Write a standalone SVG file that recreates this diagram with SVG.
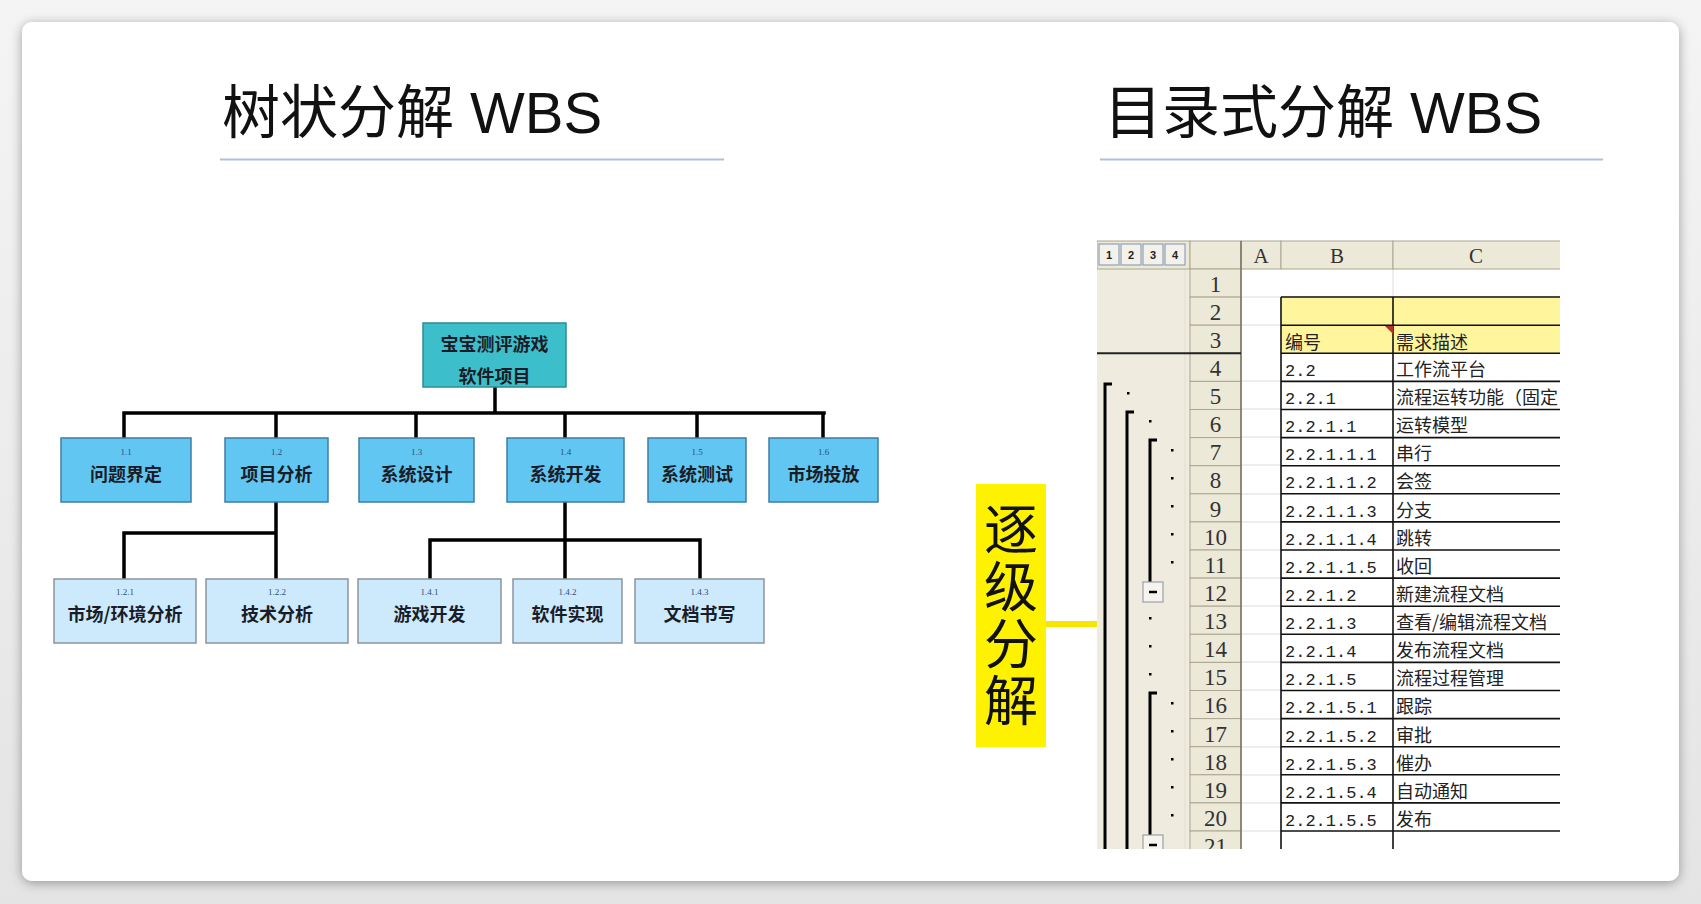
<svg xmlns="http://www.w3.org/2000/svg" width="1701" height="904" viewBox="0 0 1701 904">
  <defs>
    <style>
      .title { font-family: "Liberation Sans", "Noto Sans CJK SC", sans-serif; font-size: 58px; fill: #111; }
      .rule { stroke: #a9c3de; stroke-width: 2; }
      .wire { stroke: #000; stroke-width: 3.5; fill: none; stroke-linecap: square; }
      .root { fill: #3cbfca; stroke: #2b8c99; stroke-width: 1.5; }
      .l1 { fill: #62c6f2; stroke: #3f7da3; stroke-width: 1.5; }
      .l2 { fill: #cdeafc; stroke: #8a949c; stroke-width: 1.5; }
      .lbl { font-family: "Noto Sans CJK SC", sans-serif; font-weight: 700; font-size: 18px; fill: #1a1d28; text-anchor: middle; }
      .num { font-family: "Liberation Serif", serif; font-size: 9px; fill: #2d4d7e; text-anchor: middle; }
      .hdr { fill: #ece9d8; stroke: #aaa691; stroke-width: 1; }
      .hdrtxt { font-family: "Liberation Serif", serif; font-size: 21px; fill: #333; text-anchor: middle; }
      .rown { font-family: "Liberation Serif", serif; font-size: 23px; fill: #333; text-anchor: middle; }
      .code { font-family: "Liberation Mono", monospace; font-size: 17px; fill: #222; }
      .desc { font-family: "Noto Sans CJK SC", sans-serif; font-size: 18px; fill: #222; }
      .blk { stroke: #111; stroke-width: 1.6; }
      .grid { stroke: #dcdcdc; stroke-width: 1; }
      .brk { stroke: #000; stroke-width: 3; fill: none; }
      .dot { fill: #000; }
      .btn { fill: #f3f1ea; stroke: #8fa3ba; stroke-width: 1.2; }
      .btntxt { font-family: "Liberation Sans", sans-serif; font-size: 11px; font-weight: 700; fill: #222; text-anchor: middle; }
      .minus { fill: #f6f4ee; stroke: #9aa1aa; stroke-width: 1.2; }
      .call { font-family: "Noto Sans CJK SC", sans-serif; font-size: 54px; fill: #111; writing-mode: vertical-rl; letter-spacing: 3px; }
    </style>
    <filter id="cardShadow" x="-5%" y="-5%" width="110%" height="110%">
      <feGaussianBlur in="SourceAlpha" stdDeviation="6"/>
      <feOffset dx="0" dy="2" result="b"/>
      <feComponentTransfer><feFuncA type="linear" slope="0.35"/></feComponentTransfer>
      <feMerge><feMergeNode/><feMergeNode in="SourceGraphic"/></feMerge>
    </filter>
    <linearGradient id="topBand" x1="0" y1="0" x2="0" y2="1">
      <stop offset="0" stop-color="#f4f4f4"/>
      <stop offset="1" stop-color="#e4e4e4"/>
    </linearGradient>
    <clipPath id="sheetClip">
      <rect x="1097" y="240" width="463" height="609"/>
    </clipPath>
  </defs>

  <!-- page background and slide card -->
  <rect x="0" y="0" width="1701" height="904" fill="url(#topBand)"/>
  <rect x="22" y="22" width="1657" height="859" rx="10" fill="#fff" filter="url(#cardShadow)"/>

  <!-- headings -->
  <g id="heading-tree">
    <text class="title" x="222" y="133">树状分解 WBS</text>
    <line class="rule" x1="220" y1="159.5" x2="724" y2="159.5"/>
  </g>
  <g id="heading-outline">
    <text class="title" x="1104" y="133">目录式分解 WBS</text>
    <line class="rule" x1="1100" y1="159.5" x2="1603" y2="159.5"/>
  </g>

  <!-- tree connectors -->
  <g id="connectors">
    <path class="wire" d="M495,387 V413 M124,413 H824 M124,413 V438 M276,413 V438 M416,413 V438 M565,413 V438 M697,413 V438 M823,413 V438"/>
    <path class="wire" d="M276,503 V579 M124,533 H276 M124,533 V579"/>
    <path class="wire" d="M565,503 V579 M430,540 H700 M430,540 V579 M700,540 V579"/>
    <line x1="1046" y1="624" x2="1097" y2="624" stroke="#f7e600" stroke-width="6"/>
  </g>

  <!-- tree nodes -->
  <g id="node-root">
    <rect class="root" x="423" y="323" width="143" height="64"/>
    <text class="lbl" x="494.5" y="351">宝宝测评游戏</text>
    <text class="lbl" x="494.5" y="383">软件项目</text>
  </g>
  <g id="node-1-1">
    <rect class="l1" x="61" y="438" width="130" height="64"/>
    <text class="num" x="126" y="455">1.1</text>
    <text class="lbl" x="126" y="481">问题界定</text>
  </g>
  <g id="node-1-2">
    <rect class="l1" x="225" y="438" width="103" height="64"/>
    <text class="num" x="276.5" y="455">1.2</text>
    <text class="lbl" x="276.5" y="481">项目分析</text>
  </g>
  <g id="node-1-3">
    <rect class="l1" x="359" y="438" width="115" height="64"/>
    <text class="num" x="416.5" y="455">1.3</text>
    <text class="lbl" x="416.5" y="481">系统设计</text>
  </g>
  <g id="node-1-4">
    <rect class="l1" x="507" y="438" width="117" height="64"/>
    <text class="num" x="565.5" y="455">1.4</text>
    <text class="lbl" x="565.5" y="481">系统开发</text>
  </g>
  <g id="node-1-5">
    <rect class="l1" x="648" y="438" width="98" height="64"/>
    <text class="num" x="697" y="455">1.5</text>
    <text class="lbl" x="697" y="481">系统测试</text>
  </g>
  <g id="node-1-6">
    <rect class="l1" x="769" y="438" width="109" height="64"/>
    <text class="num" x="823.5" y="455">1.6</text>
    <text class="lbl" x="823.5" y="481">市场投放</text>
  </g>
  <g id="node-1-2-1">
    <rect class="l2" x="54" y="579" width="142" height="64"/>
    <text class="num" x="125" y="595">1.2.1</text>
    <text class="lbl" x="125" y="621">市场/环境分析</text>
  </g>
  <g id="node-1-2-2">
    <rect class="l2" x="206" y="579" width="142" height="64"/>
    <text class="num" x="277" y="595">1.2.2</text>
    <text class="lbl" x="277" y="621">技术分析</text>
  </g>
  <g id="node-1-4-1">
    <rect class="l2" x="358" y="579" width="143" height="64"/>
    <text class="num" x="429.5" y="595">1.4.1</text>
    <text class="lbl" x="429.5" y="621">游戏开发</text>
  </g>
  <g id="node-1-4-2">
    <rect class="l2" x="513" y="579" width="109" height="64"/>
    <text class="num" x="567.5" y="595">1.4.2</text>
    <text class="lbl" x="567.5" y="621">软件实现</text>
  </g>
  <g id="node-1-4-3">
    <rect class="l2" x="635" y="579" width="129" height="64"/>
    <text class="num" x="699.5" y="595">1.4.3</text>
    <text class="lbl" x="699.5" y="621">文档书写</text>
  </g>

  <!-- callout -->
  <g id="callout">
    <rect x="976" y="484" width="70" height="263" fill="#fff200"/>
    <text class="call" x="1011" y="502">逐级分解</text>
  </g>

  <!-- outlined spreadsheet -->
  <g id="sheet" clip-path="url(#sheetClip)">
    <!-- cell area -->
    <rect x="1241" y="269" width="330" height="590" fill="#fff"/>
    <!-- outline pane -->
    <rect x="1097" y="241" width="93" height="620" fill="#efebdf"/>
    <line x1="1185" y1="269" x2="1185" y2="860" stroke="#e3dfd2" stroke-width="1"/>

    <!-- faint grid in column A and row 1 -->
    <g class="grid">
      <line x1="1241" y1="297" x2="1281" y2="297"/>
      <line x1="1281" y1="297" x2="1560" y2="297"/>
      <line x1="1393" y1="269" x2="1393" y2="297"/>
      <line x1="1241" y1="325" x2="1281" y2="325"/>
      <line x1="1241" y1="381" x2="1281" y2="381"/>
      <line x1="1241" y1="409" x2="1281" y2="409"/>
      <line x1="1241" y1="437" x2="1281" y2="437"/>
      <line x1="1241" y1="465" x2="1281" y2="465"/>
      <line x1="1241" y1="494" x2="1281" y2="494"/>
      <line x1="1241" y1="522" x2="1281" y2="522"/>
      <line x1="1241" y1="550" x2="1281" y2="550"/>
      <line x1="1241" y1="578" x2="1281" y2="578"/>
      <line x1="1241" y1="606" x2="1281" y2="606"/>
      <line x1="1241" y1="634" x2="1281" y2="634"/>
      <line x1="1241" y1="662" x2="1281" y2="662"/>
      <line x1="1241" y1="690" x2="1281" y2="690"/>
      <line x1="1241" y1="719" x2="1281" y2="719"/>
      <line x1="1241" y1="747" x2="1281" y2="747"/>
      <line x1="1241" y1="775" x2="1281" y2="775"/>
      <line x1="1241" y1="803" x2="1281" y2="803"/>
      <line x1="1241" y1="831" x2="1281" y2="831"/>
    </g>

    <!-- yellow header block B2:C3 -->
    <rect x="1281" y="297" width="290" height="56" fill="#fff59d"/>

    <!-- column headers -->
    <rect class="hdr" x="1097" y="241" width="93" height="28"/>
    <rect class="hdr" x="1190" y="241" width="51" height="28"/>
    <rect class="hdr" x="1241" y="241" width="40" height="28"/>
    <rect class="hdr" x="1281" y="241" width="112" height="28"/>
    <rect class="hdr" x="1393" y="241" width="180" height="28"/>
    <text class="hdrtxt" x="1261" y="263">A</text>
    <text class="hdrtxt" x="1337" y="263">B</text>
    <text class="hdrtxt" x="1476" y="263">C</text>

    <!-- outline level buttons -->
    <rect class="btn" x="1099" y="244" width="20" height="21"/>
    <rect class="btn" x="1121" y="244" width="20" height="21"/>
    <rect class="btn" x="1143" y="244" width="20" height="21"/>
    <rect class="btn" x="1165" y="244" width="20" height="21"/>
    <text class="btntxt" x="1109" y="259">1</text>
    <text class="btntxt" x="1131" y="259">2</text>
    <text class="btntxt" x="1153" y="259">3</text>
    <text class="btntxt" x="1175" y="259">4</text>

    <!-- row headers -->
    <g>
      <rect class="hdr" x="1190" y="269" width="51" height="28.1"/>
      <rect class="hdr" x="1190" y="297.1" width="51" height="28.1"/>
      <rect class="hdr" x="1190" y="325.2" width="51" height="28.1"/>
      <rect class="hdr" x="1190" y="353.3" width="51" height="28.1"/>
      <rect class="hdr" x="1190" y="381.4" width="51" height="28.1"/>
      <rect class="hdr" x="1190" y="409.5" width="51" height="28.1"/>
      <rect class="hdr" x="1190" y="437.6" width="51" height="28.1"/>
      <rect class="hdr" x="1190" y="465.7" width="51" height="28.1"/>
      <rect class="hdr" x="1190" y="493.8" width="51" height="28.1"/>
      <rect class="hdr" x="1190" y="521.9" width="51" height="28.1"/>
      <rect class="hdr" x="1190" y="550" width="51" height="28.1"/>
      <rect class="hdr" x="1190" y="578.1" width="51" height="28.1"/>
      <rect class="hdr" x="1190" y="606.2" width="51" height="28.1"/>
      <rect class="hdr" x="1190" y="634.3" width="51" height="28.1"/>
      <rect class="hdr" x="1190" y="662.4" width="51" height="28.1"/>
      <rect class="hdr" x="1190" y="690.5" width="51" height="28.1"/>
      <rect class="hdr" x="1190" y="718.6" width="51" height="28.1"/>
      <rect class="hdr" x="1190" y="746.7" width="51" height="28.1"/>
      <rect class="hdr" x="1190" y="774.8" width="51" height="28.1"/>
      <rect class="hdr" x="1190" y="802.9" width="51" height="28.1"/>
      <rect class="hdr" x="1190" y="831" width="51" height="28.1"/>
    </g>
    <line x1="1241" y1="241" x2="1241" y2="860" stroke="#77735f" stroke-width="1.5"/>
    <g class="rown">
      <text x="1215.5" y="292">1</text>
      <text x="1215.5" y="320">2</text>
      <text x="1215.5" y="348">3</text>
      <text x="1215.5" y="376">4</text>
      <text x="1215.5" y="404">5</text>
      <text x="1215.5" y="432">6</text>
      <text x="1215.5" y="460">7</text>
      <text x="1215.5" y="488">8</text>
      <text x="1215.5" y="517">9</text>
      <text x="1215.5" y="545">10</text>
      <text x="1215.5" y="573">11</text>
      <text x="1215.5" y="601">12</text>
      <text x="1215.5" y="629">13</text>
      <text x="1215.5" y="657">14</text>
      <text x="1215.5" y="685">15</text>
      <text x="1215.5" y="713">16</text>
      <text x="1215.5" y="742">17</text>
      <text x="1215.5" y="770">18</text>
      <text x="1215.5" y="798">19</text>
      <text x="1215.5" y="826">20</text>
      <text x="1215.5" y="854">21</text>
    </g>

    <!-- heavy rule under the header rows -->
    <line x1="1097" y1="353.3" x2="1241" y2="353.3" stroke="#222" stroke-width="2"/>

    <!-- table borders in B and C -->
    <g class="blk">
      <line x1="1281" y1="297" x2="1560" y2="297"/>
      <line x1="1281" y1="325.2" x2="1560" y2="325.2"/>
      <line x1="1281" y1="353.3" x2="1560" y2="353.3"/>
      <line x1="1281" y1="381.4" x2="1560" y2="381.4"/>
      <line x1="1281" y1="409.5" x2="1560" y2="409.5"/>
      <line x1="1281" y1="437.6" x2="1560" y2="437.6"/>
      <line x1="1281" y1="465.7" x2="1560" y2="465.7"/>
      <line x1="1281" y1="493.8" x2="1560" y2="493.8"/>
      <line x1="1281" y1="521.9" x2="1560" y2="521.9"/>
      <line x1="1281" y1="550" x2="1560" y2="550"/>
      <line x1="1281" y1="578.1" x2="1560" y2="578.1"/>
      <line x1="1281" y1="606.2" x2="1560" y2="606.2"/>
      <line x1="1281" y1="634.3" x2="1560" y2="634.3"/>
      <line x1="1281" y1="662.4" x2="1560" y2="662.4"/>
      <line x1="1281" y1="690.5" x2="1560" y2="690.5"/>
      <line x1="1281" y1="718.6" x2="1560" y2="718.6"/>
      <line x1="1281" y1="746.7" x2="1560" y2="746.7"/>
      <line x1="1281" y1="774.8" x2="1560" y2="774.8"/>
      <line x1="1281" y1="802.9" x2="1560" y2="802.9"/>
      <line x1="1281" y1="831" x2="1560" y2="831"/>
      <line x1="1281" y1="297" x2="1281" y2="860"/>
      <line x1="1393" y1="297" x2="1393" y2="860"/>
    </g>
    <!-- comment marker on B3 -->
    <polygon points="1385,326 1393,326 1393,334" fill="#b8322a"/>

    <!-- column B: codes -->
    <text class="desc" x="1285" y="349">编号</text>
    <g class="code">
      <text x="1285" y="376">2.2</text>
      <text x="1285" y="404">2.2.1</text>
      <text x="1285" y="432">2.2.1.1</text>
      <text x="1285" y="460">2.2.1.1.1</text>
      <text x="1285" y="488">2.2.1.1.2</text>
      <text x="1285" y="517">2.2.1.1.3</text>
      <text x="1285" y="545">2.2.1.1.4</text>
      <text x="1285" y="573">2.2.1.1.5</text>
      <text x="1285" y="601">2.2.1.2</text>
      <text x="1285" y="629">2.2.1.3</text>
      <text x="1285" y="657">2.2.1.4</text>
      <text x="1285" y="685">2.2.1.5</text>
      <text x="1285" y="713">2.2.1.5.1</text>
      <text x="1285" y="742">2.2.1.5.2</text>
      <text x="1285" y="770">2.2.1.5.3</text>
      <text x="1285" y="798">2.2.1.5.4</text>
      <text x="1285" y="826">2.2.1.5.5</text>
    </g>
    <!-- column C: descriptions -->
    <g class="desc">
      <text x="1396" y="349">需求描述</text>
      <text x="1396" y="376">工作流平台</text>
      <text x="1396" y="404">流程运转功能（固定</text>
      <text x="1396" y="432">运转模型</text>
      <text x="1396" y="460">串行</text>
      <text x="1396" y="488">会签</text>
      <text x="1396" y="517">分支</text>
      <text x="1396" y="545">跳转</text>
      <text x="1396" y="573">收回</text>
      <text x="1396" y="601">新建流程文档</text>
      <text x="1396" y="629">查看/编辑流程文档</text>
      <text x="1396" y="657">发布流程文档</text>
      <text x="1396" y="685">流程过程管理</text>
      <text x="1396" y="713">跟踪</text>
      <text x="1396" y="742">审批</text>
      <text x="1396" y="770">催办</text>
      <text x="1396" y="798">自动通知</text>
      <text x="1396" y="826">发布</text>
    </g>

    <!-- outline brackets, detail dots and collapse buttons -->
    <path class="brk" d="M1112,384 H1105 V860"/>
    <path class="brk" d="M1134,412 H1127 V860"/>
    <path class="brk" d="M1157,440 H1150 V582"/>
    <path class="brk" d="M1157,693 H1150 V835"/>
    <g class="dot">
      <rect x="1127" y="392" width="2.5" height="2.5"/>
      <rect x="1149" y="420" width="2.5" height="2.5"/>
      <rect x="1171" y="449" width="2.5" height="2.5"/>
      <rect x="1171" y="477" width="2.5" height="2.5"/>
      <rect x="1171" y="505" width="2.5" height="2.5"/>
      <rect x="1171" y="533" width="2.5" height="2.5"/>
      <rect x="1171" y="561" width="2.5" height="2.5"/>
      <rect x="1149" y="617" width="2.5" height="2.5"/>
      <rect x="1149" y="645" width="2.5" height="2.5"/>
      <rect x="1149" y="673" width="2.5" height="2.5"/>
      <rect x="1171" y="702" width="2.5" height="2.5"/>
      <rect x="1171" y="730" width="2.5" height="2.5"/>
      <rect x="1171" y="758" width="2.5" height="2.5"/>
      <rect x="1171" y="786" width="2.5" height="2.5"/>
      <rect x="1171" y="814" width="2.5" height="2.5"/>
    </g>
    <rect class="minus" x="1143" y="582" width="20" height="20"/>
    <line x1="1149" y1="592" x2="1157" y2="592" stroke="#000" stroke-width="2.5"/>
    <rect class="minus" x="1143" y="835" width="20" height="20"/>
    <line x1="1149" y1="845" x2="1157" y2="845" stroke="#000" stroke-width="2.5"/>
  </g>
</svg>
